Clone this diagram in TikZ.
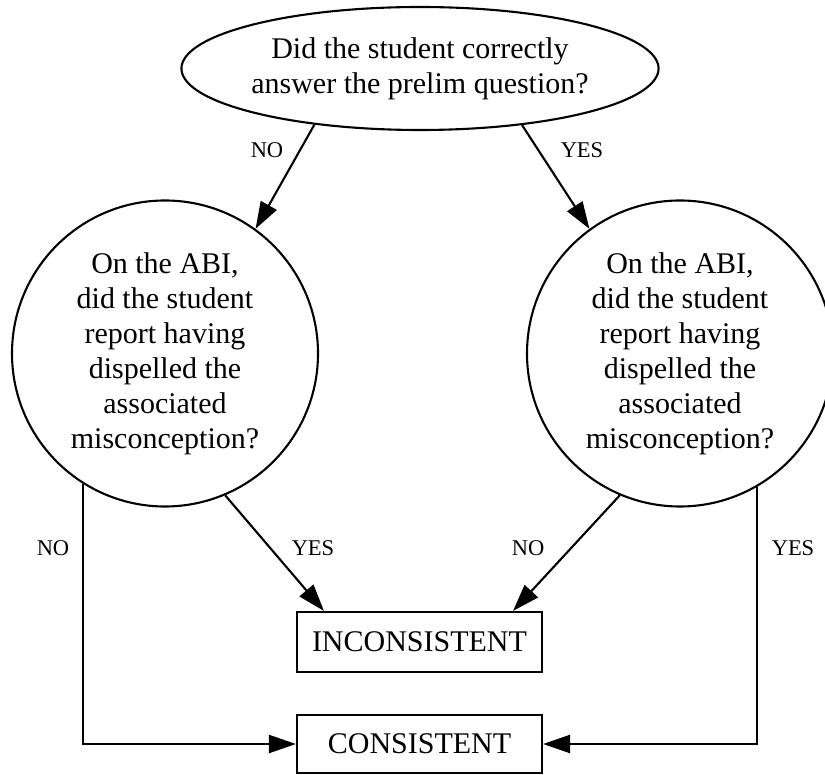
\documentclass[tikz,border=0pt]{standalone}
\usepackage{fontspec}
\setmainfont{Liberation Serif}
\usetikzlibrary{arrows.meta,shapes.geometric}
\begin{document}
\begin{tikzpicture}[x=1pt,y=-1pt,
  every node/.style={inner sep=0pt},
  big/.style={font=\fontsize{30}{35}\selectfont},
  lab/.style={font=\fontsize{22.5}{26}\selectfont},
  shapeline/.style={draw=black,line width=2.1pt},
  conn/.style={line width=2.1pt},
  arr/.style={conn,-{Triangle[length=27pt,width=18pt]}},
  outbox/.style={shapeline,big,rectangle,minimum width=245pt,minimum height=59pt}]
\useasboundingbox (0,0) rectangle (825,775);
\node[shapeline,big,ellipse,minimum width=398pt,minimum height=123pt,align=center] (q) at (420,68.5)
  {Did the student correctly\\answer the prelim question?};
\node[shapeline,big,circle,minimum size=306pt,align=center] (L) at (165,353.5)
  {On the ABI,\\did the student\\report having\\dispelled the\\associated\\misconception?};
\node[shapeline,big,circle,minimum size=306pt,align=center] (R) at (680,353.5)
  {On the ABI,\\did the student\\report having\\dispelled the\\associated\\misconception?};
\node[outbox,minimum height=60pt] (inc) at (419.5,642) {INCONSISTENT};
\node[outbox,minimum height=58pt] (con) at (419.5,744) {CONSISTENT};
\draw[arr] (q.208.6) -- (L.54.5);
\draw[arr] (q.331.9) -- (R.126.4);
\draw[arr] (L.-67) -- ([xshift=28pt]inc.north west);
\draw[arr] (R.-113) -- ([xshift=-30pt]inc.north east);
\draw[arr] (L.238) |- (con.west);
\draw[arr] (R.-60.2) |- (con.east);
\node[lab] (l1) at (267,150) {NO};
\node[lab] (l2) at (582,150) {YES};
\node[lab] (l3) at (53,548) {NO};
\node[lab] (l4) at (313,548) {YES};
\node[lab] (l5) at (528,548) {NO};
\node[lab] (l6) at (793,548) {YES};
\end{tikzpicture}
\end{document}
